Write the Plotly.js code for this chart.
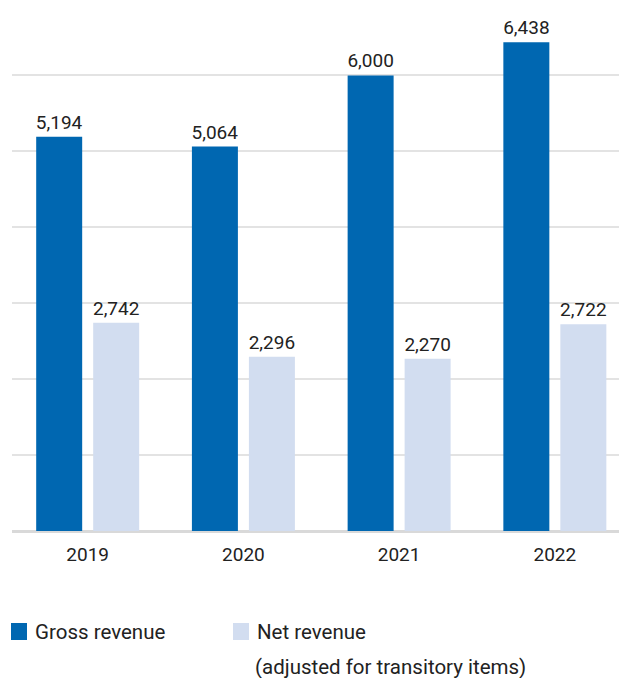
<!DOCTYPE html>
<html>
<head>
<meta charset="utf-8">
<script src="https://cdn.plot.ly/plotly-3.0.1.min.js"></script>
<style>html,body{margin:0;padding:0;background:#fff;}#chart{width:619px;height:678px;}</style>
</head>
<body>
<div id="chart"></div>
<script>
const years = ["2019", "2020", "2021", "2022"];
const grossRevenue = [5194, 5064, 6000, 6438];
const netRevenue = [2742, 2296, 2270, 2722];
const seriesNames = ["Gross revenue", "Net revenue"];
const noteText = "(adjusted for transitory items)";

const W = 619, H = 678;
const L = 12, R = 0, T = 0, B = 147;
const pw = W - L - R, ph = H - T - B;
const px = x => (x - L) / pw;
const py = y => (H - B - y) / ph;

const font = "Roboto, 'Noto Sans', sans-serif";
const gross = "#0067b1", net = "#d2ddf0";
const valFont = {family: font, size: 19, color: "#222"};
const legFont = {family: font, size: 20.5, color: "#222"};

const traces = [
  {type: "bar", x: years, y: grossRevenue, name: seriesNames[0], marker: {color: gross},
   texttemplate: "%{y:,}", textposition: "outside", constraintext: "none", cliponaxis: false,
   textfont: valFont, hoverinfo: "skip"},
  {type: "bar", x: years, y: netRevenue, name: seriesNames[1], marker: {color: net},
   texttemplate: "%{y:,}", textposition: "outside", constraintext: "none", cliponaxis: false,
   textfont: valFont, hoverinfo: "skip"}
];

const layout = {
  width: W, height: H,
  margin: {l: L, r: R, t: T, b: B, pad: 0},
  paper_bgcolor: "#fff", plot_bgcolor: "#fff",
  showlegend: false,
  barmode: "group", bargap: 0.268, bargroupgap: 0.193,
  separators: ".,",
  font: {family: font, size: 19, color: "#222"},
  xaxis: {type: "category", range: [-0.486, 3.412], showgrid: false, zeroline: false,
          showline: false, ticks: "", ticklabelstandoff: 10,
          tickfont: valFont, fixedrange: true},
  yaxis: {range: [0, 6994], dtick: 1000, showticklabels: false, showgrid: true,
          gridcolor: "#e3e3e3", gridwidth: 2, zeroline: true, zerolinecolor: "#d9d9d9",
          zerolinewidth: 3, showline: false, fixedrange: true},
  shapes: [
    {type: "rect", xref: "paper", yref: "paper", x0: px(11), x1: px(27), y0: py(640), y1: py(623),
     fillcolor: gross, line: {width: 0}},
    {type: "rect", xref: "paper", yref: "paper", x0: px(233), x1: px(249), y0: py(640), y1: py(623),
     fillcolor: net, line: {width: 0}}
  ],
  annotations: [
    {xref: "paper", yref: "paper", x: px(33), y: py(632), xanchor: "left", yanchor: "middle",
     text: seriesNames[0], showarrow: false, font: legFont},
    {xref: "paper", yref: "paper", x: px(255), y: py(632), xanchor: "left", yanchor: "middle",
     text: seriesNames[1], showarrow: false, font: legFont},
    {xref: "paper", yref: "paper", x: px(253), y: py(667), xanchor: "left", yanchor: "middle",
     text: noteText, showarrow: false, font: legFont}
  ]
};

Plotly.newPlot("chart", traces, layout, {displayModeBar: false, staticPlot: true});
</script>
</body>
</html>
